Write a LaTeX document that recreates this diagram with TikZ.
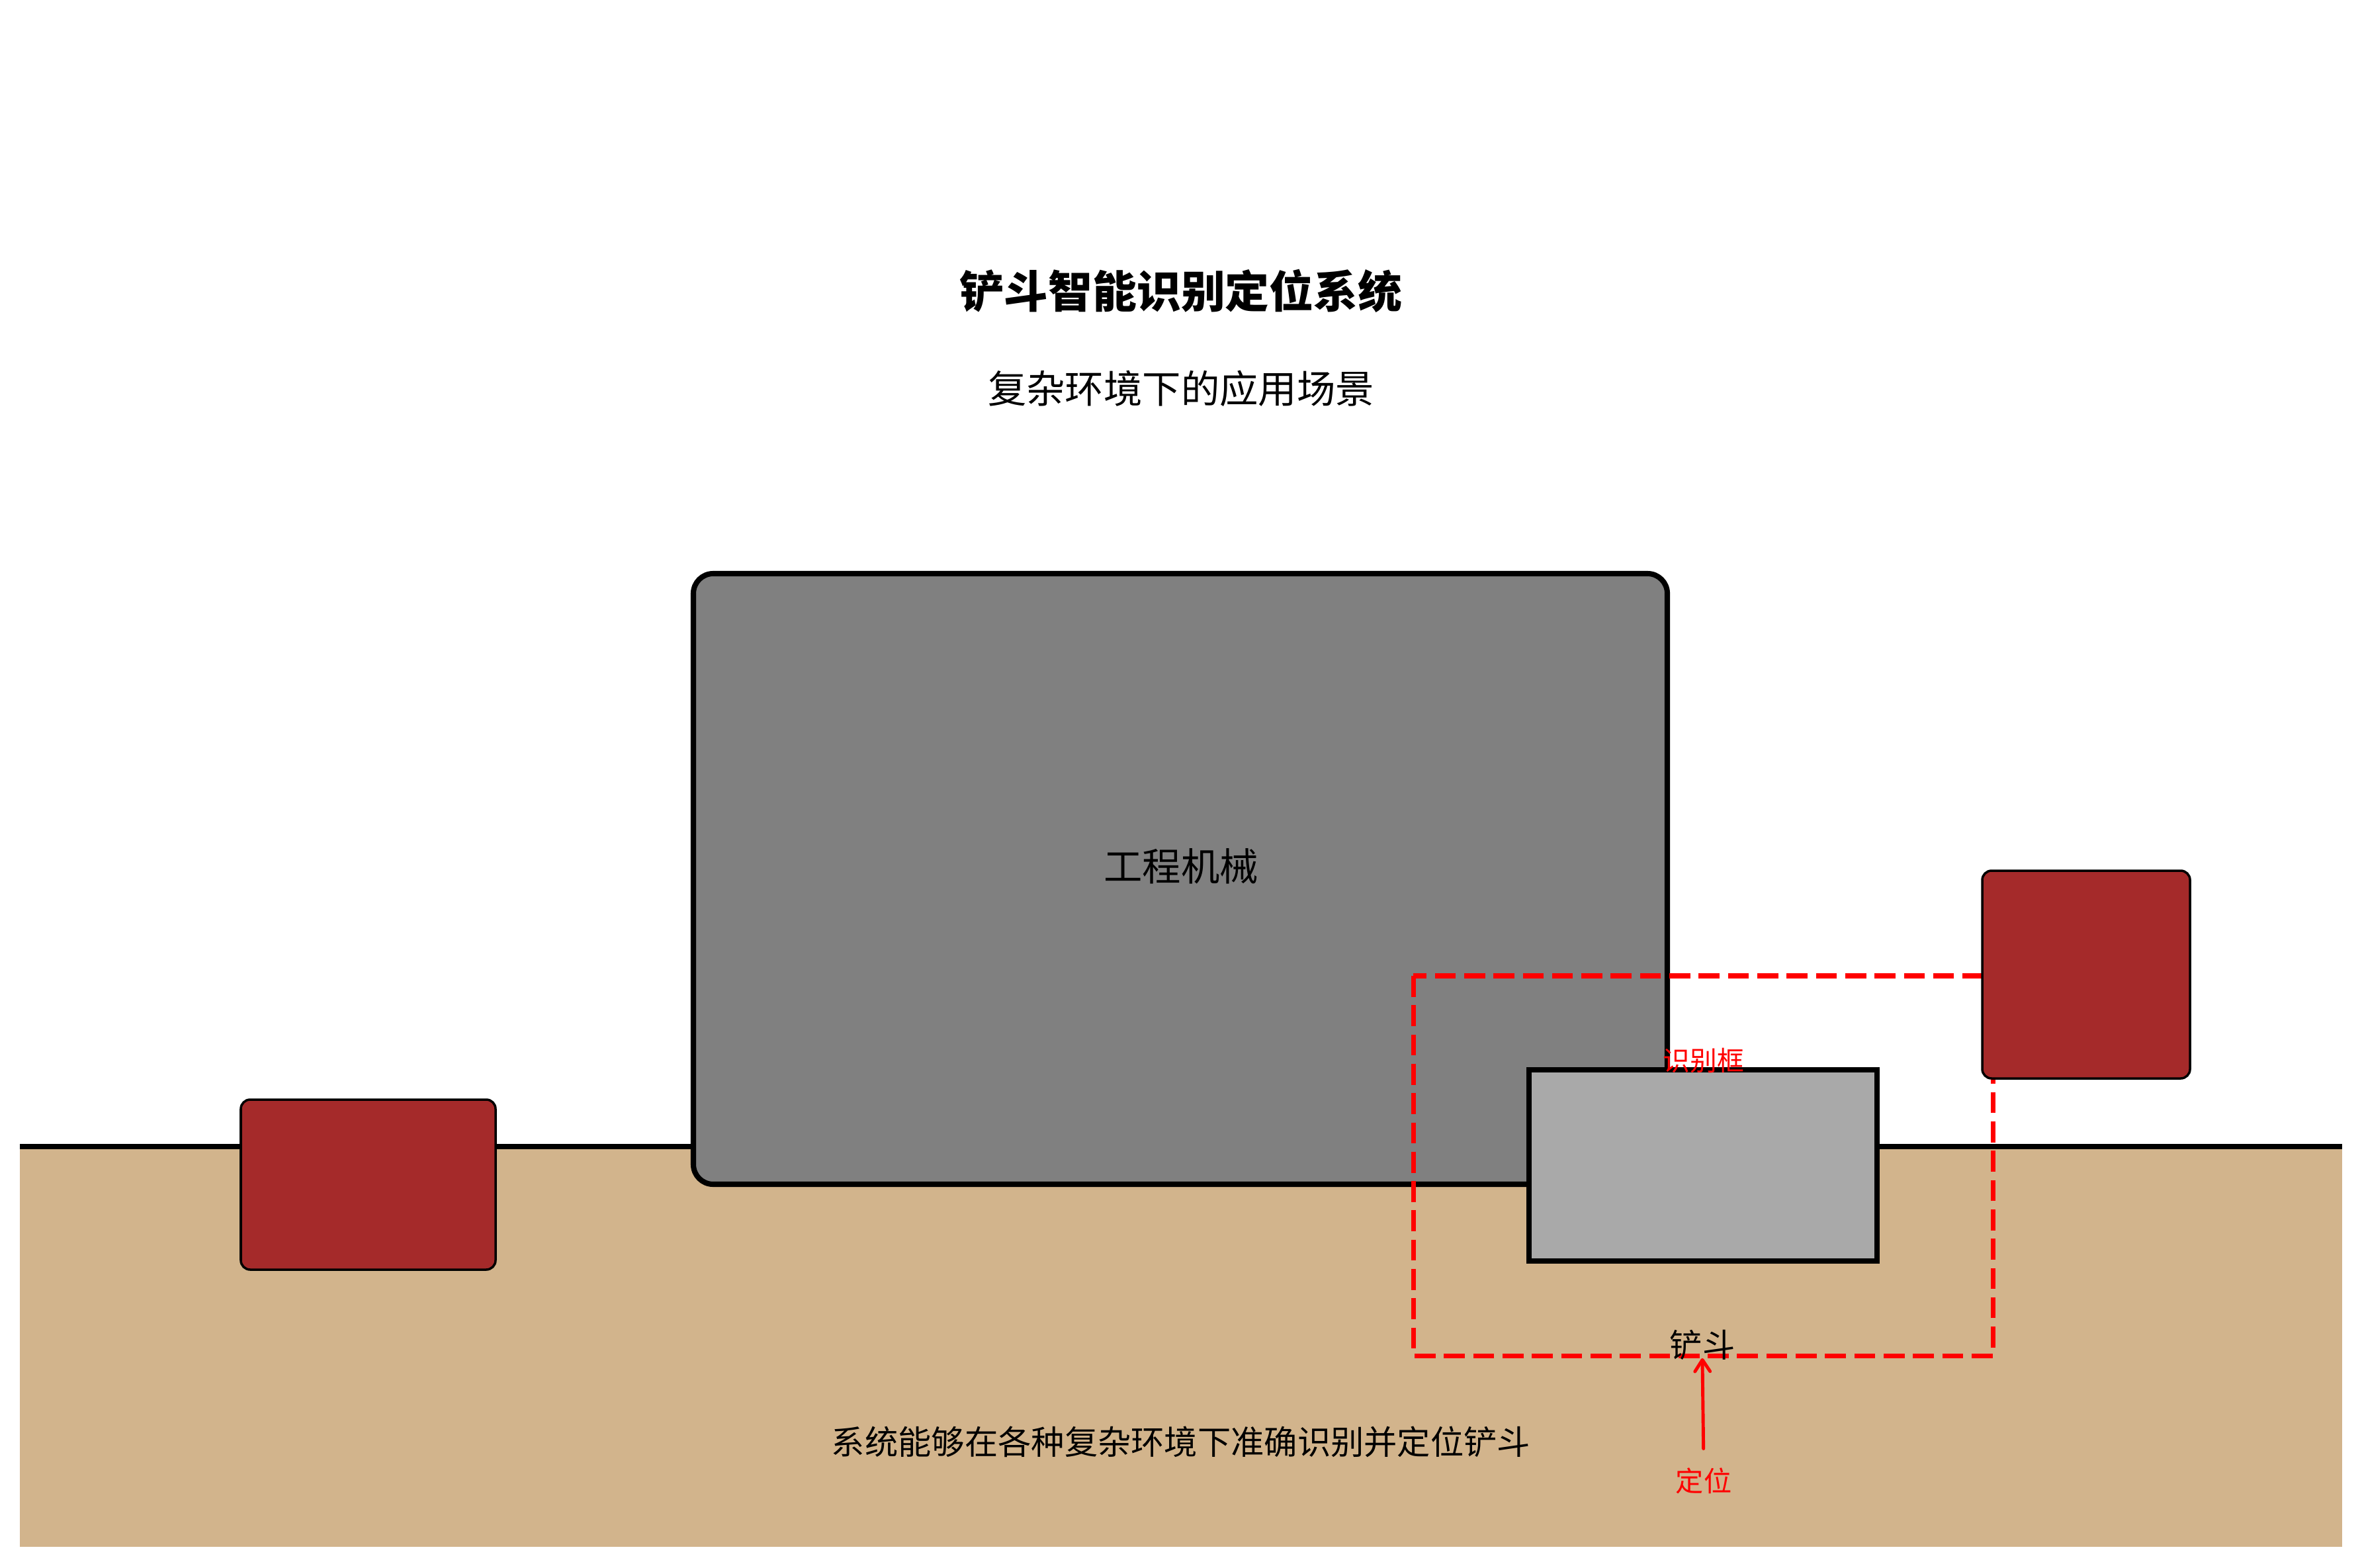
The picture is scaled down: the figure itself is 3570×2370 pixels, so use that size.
\documentclass[tikz,border=0pt]{standalone}
\usepackage{fontspec}
\setmainfont{Noto Sans CJK SC}
\usepackage{tikz}
\usetikzlibrary{arrows.meta}
\definecolor{ink}{HTML}{000000}
\definecolor{paper}{HTML}{FFFFFF}
\definecolor{machinegray}{HTML}{808080}
\definecolor{bucketgray}{HTML}{A9A9A9}
\definecolor{rockbrown}{HTML}{A52A2A}
\definecolor{soiltan}{HTML}{D2B48C}
\definecolor{markred}{HTML}{FF0000}
\tikzset{
  machinebody/.style={draw=ink,fill=machinegray,line width=2.3pt,rounded corners=8.5pt},
  bucketbody/.style={draw=ink,fill=bucketgray,line width=2.3pt},
  rockbox/.style={draw=ink,fill=rockbrown,line width=1pt,rounded corners=4pt},
  detectframe/.style={draw=markred,line width=2pt,dash pattern=on 9pt off 3.6pt},
  locarr/.style={-{Straight Barb[length=5pt,width=6.5pt,round]},line width=1.4pt,line cap=round,color=markred},
  titletext/.style={font=\fontsize{19}{22}\selectfont\bfseries,inner sep=0pt},
  bodytext/.style={font=\fontsize{16.6}{20}\selectfont,inner sep=0pt},
  smalltext/.style={font=\fontsize{14}{17}\selectfont,inner sep=0pt},
  redtag/.style={font=\fontsize{12}{14}\selectfont,text=markred,inner sep=0pt}
}

\begin{document}
\begin{tikzpicture}[x=0.01cm,y=-0.01cm,>=Latex]
  \useasboundingbox[fill=paper] (0,0) rectangle (3570,2370);
  % ground
  \fill[soiltan] (30,1733) rectangle (3540,2338);
  \draw[ink,line width=2.3pt] (30,1733) -- (3540,1733);
  % machine and detection frame
  \draw[machinebody] (1048,867) rectangle (2520,1790);
  \draw[detectframe] (2136,1475) rectangle (3012,2049);
  \draw[rockbox] (364,1662) rectangle (749,1919);
  \draw[rockbox] (2996,1316) rectangle (3310,1630);
  \draw[bucketbody] (2311,1617) rectangle (2837,1906);
  % texts
  \node[titletext] (title) at (1785,440) {铲斗智能识别定位系统};
  \node[bodytext] (subtitle) at (1785,587) {复杂环境下的应用场景};
  \node[bodytext] (machine) at (1785,1309) {工程机械};
  \node[redtag,font=\fontsize{11.6}{14}\selectfont] (frametag) at (2575,1603) {识别框};
  \node[smalltext] (bucket) at (2573,2033) {铲斗};
  \node[redtag] (loctag) at (2575,2238) {定位};
  \node[smalltext,font=\fontsize{14.3}{17}\selectfont] (caption) at (1785,2179) {系统能够在各种复杂环境下准确识别并定位铲斗};
  \draw[locarr,shorten <=8pt,shorten >=-1pt] (loctag.north) -- (bucket.south);
\end{tikzpicture}
\end{document}
